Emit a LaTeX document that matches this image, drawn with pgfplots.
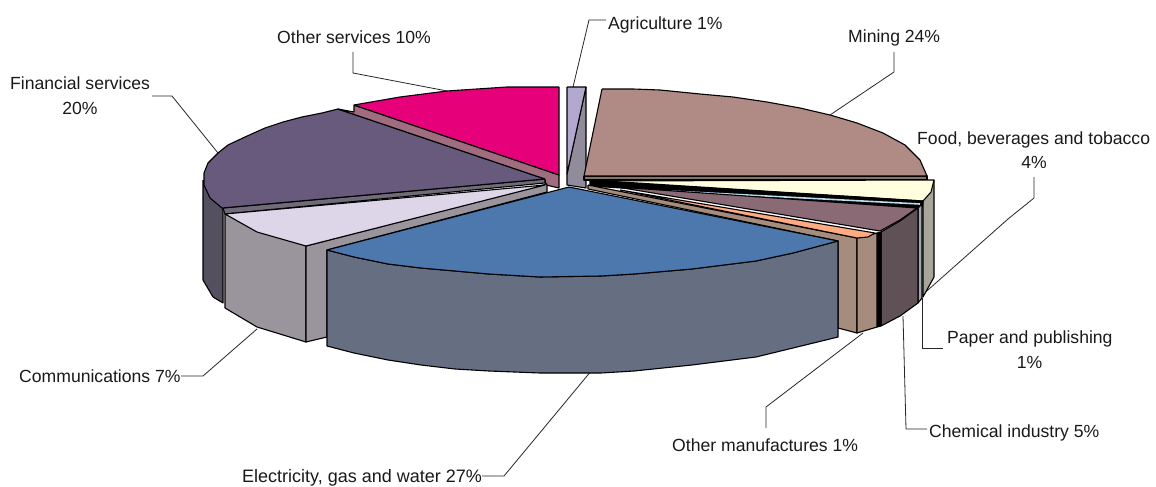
\documentclass[border=0pt]{standalone}
\usepackage{pgfplots}
\usepackage{fontspec}
\pgfplotsset{compat=1.18}
\setmainfont{Liberation Sans}
\definecolor{elec}{HTML}{4C78AE}
\definecolor{elecS}{HTML}{666E82}
\definecolor{mine}{HTML}{B08A84}
\definecolor{mineS}{HTML}{857468}
\definecolor{food}{HTML}{FFFFE0}
\definecolor{foodS}{HTML}{A8A698}
\definecolor{paper}{HTML}{BBDDF2}
\definecolor{paperS}{HTML}{A0A8B0}
\definecolor{chem}{HTML}{8A6A75}
\definecolor{chemS}{HTML}{5F5155}
\definecolor{manu}{HTML}{FFAA80}
\definecolor{manuS}{HTML}{A58C7C}
\definecolor{comm}{HTML}{DCD6E8}
\definecolor{commS}{HTML}{9A949C}
\definecolor{fin}{HTML}{675A7C}
\definecolor{finS}{HTML}{555060}
\definecolor{finR}{HTML}{6F6B78}
\definecolor{serv}{HTML}{E6007A}
\definecolor{servS}{HTML}{A06C80}
\definecolor{agri}{HTML}{B3A8D0}
\definecolor{agriS}{HTML}{918C9C}
\newcommand{\piece}[2]{\addplot[fill=#1,draw=black,line width=1.1pt,line join=round,forget plot] coordinates {#2};}
\newcommand{\leader}[1]{\addplot[draw=black!85,line width=0.8pt,forget plot] coordinates {#1};}
\newcommand{\lab}[3]{\node[anchor=base west,inner sep=0pt,font=\fontsize{17.6}{21}\selectfont,text=black!90] at (axis cs:#1,#2) {#3};}
\newcommand{\labc}[3]{\node[anchor=base,inner sep=0pt,font=\fontsize{17.6}{21}\selectfont,text=black!90] at (axis cs:#1,#2) {#3};}
\begin{document}
\begin{tikzpicture}
\path[use as bounding box] (0,0) rectangle (1156pt,487pt);
\begin{axis}[at={(0,0)},anchor=south west,width=1156pt,height=487pt,scale only axis,
  xmin=0,xmax=1156,ymin=0,ymax=487,y dir=reverse,hide axis,clip=false,no markers]
% Leader lines from the slices to their labels
\leader{(573,87)(589,20)(606,20)}
\leader{(830,115)(894,72)(894,52)}
\leader{(920,297)(1008,219)(1034,198)(1034,177)}
\leader{(922,298)(922,348)(943,348)}
\leader{(903,316)(906,429)(927,429)}
\leader{(863,333)(766,407)(766,428)}
\leader{(257,329)(203,376)(181,376)}
\leader{(592,370)(504,476)(482,476)}
\leader{(218,153)(172,96)(152,96)}
\leader{(447,91)(353,73)(353,52)}
% Financial services
\piece{finS}{(203,180)(203,280)(213,297)(223,303)(223,208)(203,180)}
\piece{finR}{(223,208)(545,179)(545,183)(225,214)(223,208)}
\piece{fin}{(545,179)(338,109)(322,113)(302,117)(283,122)(265,128)(245,137)(228,145)(218,153)(208,163)(204,173)(204,185)(210,198)(222,208)(545,179)}
% Other services
\piece{servS}{(354,105)(559,175)(559,188)(546,185)(545,179)(338,109)(354,112)(354,105)}
\piece{serv}{(559,87)(507,87)(447,91)(400,97)(354,105)(559,175)(559,87)}
% Agriculture
\piece{agriS}{(586,87)(586,188)(567,185)(567,174)(586,87)}
\piece{agri}{(567,87)(586,87)(567,174)(567,87)}
% Mining
\piece{mineS}{(584,176)(927,176)(927,180)(584,180)(584,176)}
\piece{mine}{(602,89)(633,89)(660,90)(700,94)(733,97)(767,102)(800,108)(830,115)(857,123)(883,133)(905,145)(920,160)(927,176)(584,176)(602,89)}
% Food, beverages and tobacco
\piece{foodS}{(934,180)(934,277)(923,297)(923,201)(934,180)}
\piece{food}{(590,181)(934,180)(931,192)(923,201)(590,181)}
% Dark radial faces between the narrow slices
\piece{black}{(590,180)(700,187)(923,201)(922,208)(700,193)(590,186)(590,180)}
% Paper and publishing
\piece{paperS}{(918,208)(922,204)(922,298)(918,303)(918,208)}
\addplot[draw=paper,line width=1.6pt,forget plot] coordinates {(670,191)(920,204)};
% Chemical industry
\piece{chemS}{(881,232)(900,221)(918,208)(918,303)(900,316)(881,326)(881,232)}
\piece{black}{(877,233)(881,232)(881,326)(877,327)(877,233)}
\piece{chem}{(617,187)(917,208)(900,220)(880,231)(617,187)}
% Other manufactures
\piece{manuS}{(588,185)(857,238)(857,333)(838,328)(838,241)(588,189)(588,185)}
\piece{manuS}{(857,238)(877,233)(877,327)(857,333)(857,238)}
\piece{manu}{(620,190)(875,233)(868,237)(857,238)(620,190)}
% Communications
\piece{commS}{(225,214)(306,246)(306,342)(257,327)(225,308)(225,214)}
\piece{commS}{(306,246)(547,184)(547,192)(327,250)(327,337)(306,342)(306,246)}
\piece{comm}{(545,185)(225,214)(257,232)(306,246)(545,185)}
% Electricity, gas and water
\piece{elecS}{(327,250)(354,257)(388,264)(421,268)(455,271)(489,274)(540,277)(601,276)(634,274)(692,269)(756,261)(793,253)(838,241)(838,337)(793,348)(756,357)(692,365)(634,371)(601,373)(540,373)(489,371)(455,369)(421,365)(388,360)(354,353)(327,346)(327,250)}
\piece{elec}{(569,187)(838,241)(793,253)(756,261)(692,269)(634,274)(601,276)(540,277)(489,274)(455,271)(421,268)(388,264)(354,257)(327,250)(569,187)}
% Labels
\lab{608}{30}{Agriculture 1\%}
\lab{848}{43}{Mining 24\%}
\lab{917}{144}{Food, beverages and tobacco}
\labc{1034}{168}{4\%}
\lab{947}{343}{Paper and publishing}
\labc{1029.5}{368}{1\%}
\lab{929}{437}{Chemical industry 5\%}
\lab{672}{451}{Other manufactures 1\%}
\lab{10}{89}{Financial services}
\labc{80}{114}{20\%}
\lab{277}{44}{Other services 10\%}
\lab{19}{382}{Communications 7\%}
\node[anchor=base west,inner sep=0pt,font=\fontsize{18}{21}\selectfont,text=black!90] at (axis cs:242,482) {Electricity, gas and water 27\%};
\end{axis}
\end{tikzpicture}
\end{document}
